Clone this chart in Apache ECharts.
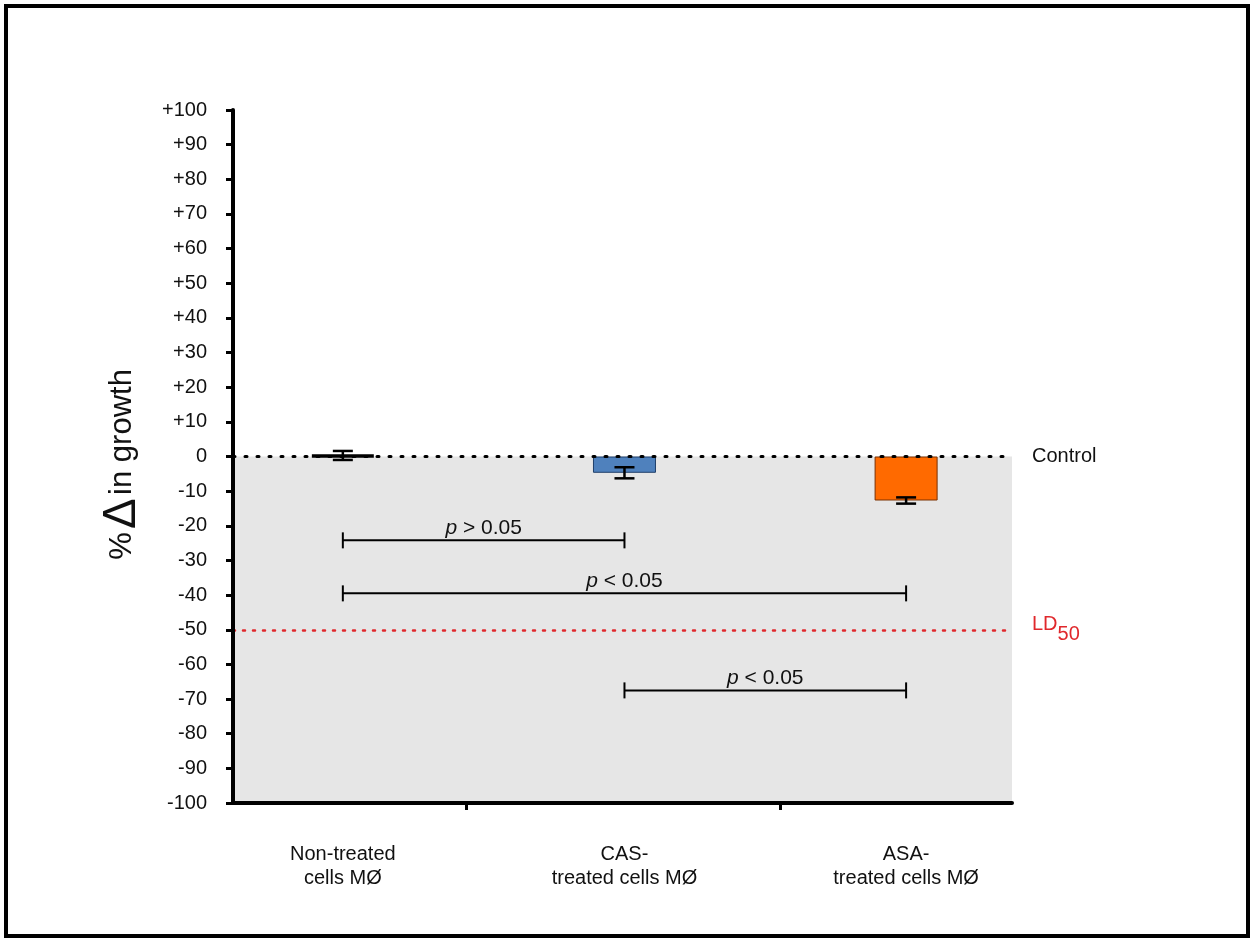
<!DOCTYPE html>
<html>
<head>
<meta charset="utf-8">
<script src="https://cdn.jsdelivr.net/npm/echarts@6/dist/echarts.min.js"></script>
<style>
html,body{margin:0;padding:0;background:#fff;}
#chart{width:1254px;height:941px;}
</style>
</head>
<body>
<div id="chart"></div>
<script>
// ---- data ----
const categories = ['Non-treated\ncells MØ', 'CAS-\ntreated cells MØ', 'ASA-\ntreated cells MØ'];
const categoryPositions = [1, 2, 3];
const means = [0.3, -4.7, -12.7];
const errors = [1.3, 1.6, 0.9];
const barColors = ['#000000', '#4f81bd', '#ff6a00'];
const barBorders = ['#000000', '#1f3f6a', '#7a3000'];
// comparisons: [from index, to index, bracket level, label]
const comparisons = [
  [0, 1, -24.2, '> 0.05'],
  [0, 2, -39.5, '< 0.05'],
  [1, 2, -67.5, '< 0.05']
];
const controlLevel = 0;
const ld50Level = -50;
const yMin = -100, yMax = 100, yStep = 10;
const xMin = 0.61, xMax = 3.376;
const xTickPositions = [1.437, 2.552];

const FONT = '"Liberation Sans", Arial, sans-serif';
const chart = echarts.init(document.getElementById('chart'));

const barData = means.map((v, i) => ({
  value: [categoryPositions[i], v],
  itemStyle: { color: barColors[i], borderColor: barBorders[i], borderWidth: i === 0 ? 3.5 : 1 }
}));
const errData = means.map((v, i) => [categoryPositions[i], v, errors[i]]);
const cmpData = comparisons.map(c => [categoryPositions[c[0]], categoryPositions[c[1]], c[2], c[3]]);

const option = {
  animation: false,
  backgroundColor: '#fff',
  grid: { left: 233, right: 242, top: 110, bottom: 138, containLabel: false },
  graphic: [{
    type: 'rect', shape: { x: 6, y: 6, width: 1242, height: 930 },
    style: { fill: 'none', stroke: '#000', lineWidth: 4 }, z: 100
  }],
  xAxis: {
    type: 'value', min: xMin, max: xMax, z: 10,
    splitLine: { show: false },
    axisLine: { show: true, onZero: false, lineStyle: { color: '#000', width: 4 } },
    axisTick: { show: true, customValues: xTickPositions, length: 7, lineStyle: { color: '#000', width: 3 } },
    axisLabel: {
      customValues: categoryPositions,
      formatter: v => { const i = categoryPositions.indexOf(Math.round(v)); return i >= 0 ? categories[i] : ''; },
      fontFamily: FONT, fontSize: 20, color: '#111', lineHeight: 24, margin: 39
    }
  },
  yAxis: {
    type: 'value', min: yMin, max: yMax, interval: yStep, z: 10,
    splitLine: { show: false },
    axisLine: { show: true, lineStyle: { color: '#000', width: 4 } },
    axisTick: { show: true, length: 7, lineStyle: { color: '#000', width: 3 } },
    axisLabel: {
      formatter: v => (v > 0 ? '+' + v : '' + v),
      fontFamily: FONT, fontSize: 20, color: '#111', margin: 26
    },
    name: '{a|%} {b|Δ} {a|in growth}',
    nameLocation: 'middle', nameGap: 88, nameRotate: 90,
    nameTextStyle: {
      fontFamily: FONT, color: '#111', padding: [0, 0, 0, -16],
      rich: { a: { fontFamily: FONT, fontSize: 31, color: '#111' }, b: { fontFamily: FONT, fontSize: 46, color: '#111' } }
    }
  },
  series: [
    {
      type: 'line', data: [], z: 1, silent: true,
      markArea: {
        silent: true,
        itemStyle: { color: '#e6e6e6' },
        data: [[{ yAxis: controlLevel }, { yAxis: yMin }]]
      }
    },
    {
      type: 'bar', data: barData, barWidth: 63, z: 2, silent: true
    },
    {
      type: 'custom', z: 3, silent: true, data: errData,
      encode: { x: 0, y: 1 },
      renderItem: (params, api) => {
        const x = api.value(0), m = api.value(1), e = api.value(2);
        const top = api.coord([x, m + e]);
        const bot = api.coord([x, m - e]);
        const hw = 10;
        const st = { stroke: '#000', lineWidth: 2.5 };
        return { type: 'group', children: [
          { type: 'line', shape: { x1: top[0], y1: top[1], x2: bot[0], y2: bot[1] }, style: st },
          { type: 'line', shape: { x1: top[0] - hw, y1: top[1], x2: top[0] + hw, y2: top[1] }, style: st },
          { type: 'line', shape: { x1: bot[0] - hw, y1: bot[1], x2: bot[0] + hw, y2: bot[1] }, style: st }
        ] };
      }
    },
    {
      type: 'line', data: [], z: 4, silent: true,
      markLine: {
        silent: true, symbol: 'none',
        data: [
          { yAxis: controlLevel, lineStyle: { color: '#000', type: [2, 10], width: 3, cap: 'round' },
            label: { show: true, position: 'end', distance: 20, formatter: 'Control', fontFamily: FONT, fontSize: 20, color: '#111' } },
          { yAxis: ld50Level, lineStyle: { color: '#e0282c', type: [2, 8], width: 2.5, cap: 'round' },
            label: { show: true, position: 'end', distance: 20, formatter: '{a|LD}{b|50}', color: '#e0282c',
              rich: { a: { fontFamily: FONT, fontSize: 20, color: '#e0282c', verticalAlign: 'top', padding: [0, 0, 8, 0] },
                      b: { fontFamily: FONT, fontSize: 20, color: '#e0282c', verticalAlign: 'bottom', padding: [10, 0, 0, 0] } } } }
        ]
      }
    },
    {
      type: 'custom', z: 5, silent: true, data: cmpData,
      encode: { x: [0, 1], y: 2 },
      renderItem: (params, api) => {
        const a = api.coord([api.value(0), api.value(2)]);
        const b = api.coord([api.value(1), api.value(2)]);
        const lbl = cmpData[params.dataIndex][3];
        const st = { stroke: '#000', lineWidth: 2 };
        const h = 8;
        return { type: 'group', children: [
          { type: 'line', shape: { x1: a[0], y1: a[1], x2: b[0], y2: b[1] }, style: st },
          { type: 'line', shape: { x1: a[0], y1: a[1] - h, x2: a[0], y2: a[1] + h }, style: st },
          { type: 'line', shape: { x1: b[0], y1: b[1] - h, x2: b[0], y2: b[1] + h }, style: st },
          { type: 'text', style: {
              text: '{i|p} ' + lbl, x: (a[0] + b[0]) / 2, y: a[1] - 2,
              align: 'center', verticalAlign: 'bottom',
              fontFamily: FONT, fontSize: 21, fill: '#111',
              rich: { i: { fontFamily: FONT, fontSize: 21, fontStyle: 'italic', fill: '#111' } }
          } }
        ] };
      }
    }
  ]
};
chart.setOption(option);
</script>
</body>
</html>
